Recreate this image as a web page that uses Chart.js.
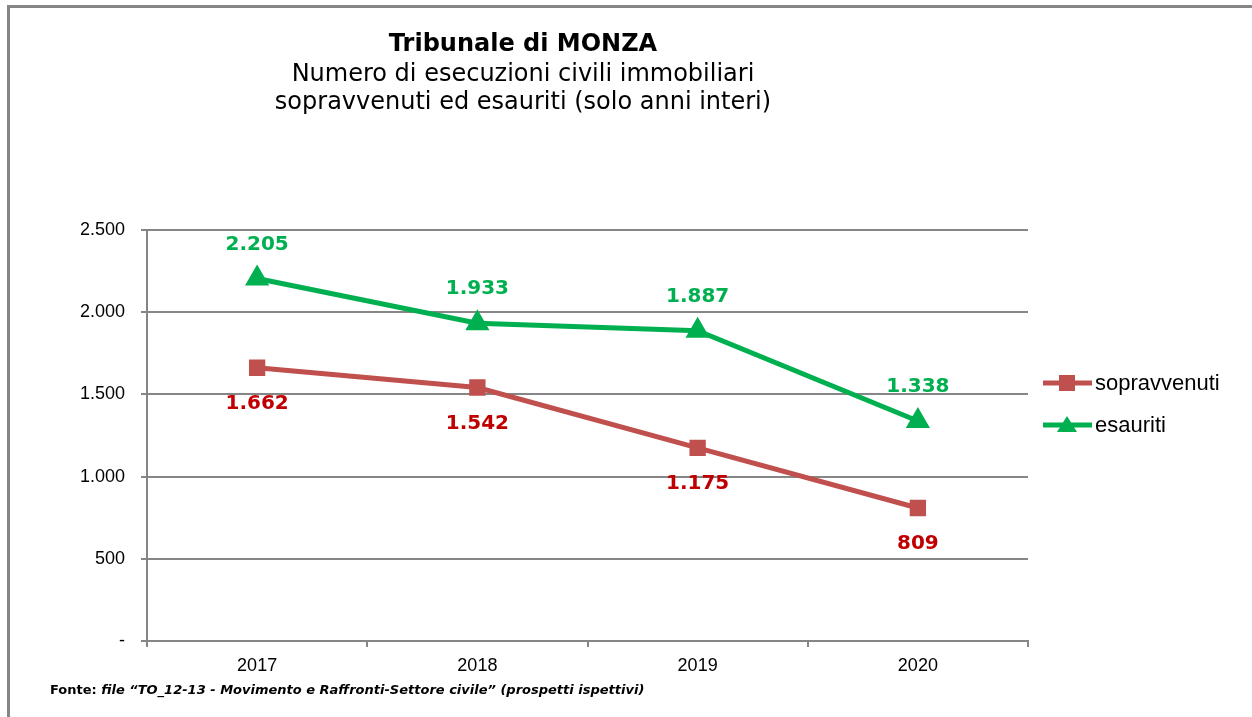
<!DOCTYPE html>
<html>
<head>
<meta charset="utf-8">
<script src="https://cdn.jsdelivr.net/npm/chart.js@4"></script>
<style>
  html, body { margin: 0; padding: 0; background: #fff; }
  #wrap { width: 1252px; height: 717px; }
</style>
</head>
<body>
<div id="wrap"><canvas id="myChart" width="1252" height="717"></canvas></div>
<script>
// dati
const anni = ["2017", "2018", "2019", "2020"];
const sopravvenuti = [1662, 1542, 1175, 809];
const esauriti = [2205, 1933, 1887, 1338];
const tickValori = [0, 500, 1000, 1500, 2000, 2500];

const titolo = "Tribunale di MONZA";
const sottotitolo = ["Numero di esecuzioni civili immobiliari", "sopravvenuti ed esauriti (solo anni interi)"];
const fonte = "Fonte: ";
const fonteCorsivo = "file \u201CTO_12-13 - Movimento e Raffronti-Settore civile\u201D (prospetti ispettivi)";

const rosso = "#C0504D";
const rossoEtichetta = "#C00000";
const verde = "#00B050";
const grigio = "#868686";

function fmt(v) {
    if (v === 0) return "-";
    return v.toLocaleString("it-IT");
}

// titolo, legenda, etichette e fonte disegnati a mano
const decorazioni = {
    id: "decorazioni",
    beforeDraw(chart) {
        const ctx = chart.ctx;
        ctx.save();
        ctx.fillStyle = "#fff";
        ctx.fillRect(0, 0, chart.width, chart.height);
        ctx.strokeStyle = grigio;
        ctx.lineWidth = 3;
        ctx.beginPath();
        ctx.moveTo(8.5, 717);
        ctx.lineTo(8.5, 6.5);
        ctx.lineTo(1252, 6.5);
        ctx.stroke();
        ctx.restore();
    },
    afterDatasetsDraw(chart) {
        const ctx = chart.ctx;
        ctx.save();
        ctx.textAlign = "center";
        ctx.textBaseline = "middle";
        ctx.font = "bold 20px 'DejaVu Sans'";
        chart.data.datasets.forEach(function (ds, i) {
            const meta = chart.getDatasetMeta(i);
            meta.data.forEach(function (pt, j) {
                const sopra = i === 1;
                ctx.fillStyle = sopra ? verde : rossoEtichetta;
                ctx.fillText(fmt(ds.data[j]), pt.x, pt.y + (sopra ? -34 : 36));
            });
        });
        ctx.restore();
    },
    afterDraw(chart) {
        const ctx = chart.ctx;
        ctx.save();
        ctx.fillStyle = "#000";
        ctx.textAlign = "center";
        ctx.textBaseline = "middle";
        ctx.font = "bold 24px 'DejaVu Sans'";
        ctx.fillText(titolo, 523, 45);
        ctx.font = "24px 'DejaVu Sans'";
        ctx.fillText(sottotitolo[0], 523, 75);
        ctx.fillText(sottotitolo[1], 523, 103);

        // legenda
        ctx.textAlign = "left";
        ctx.font = "22px 'Liberation Sans'";
        chart.data.datasets.forEach(function (ds, i) {
            const y = 383 + i * 42;
            ctx.strokeStyle = ds.borderColor;
            ctx.lineWidth = 5;
            ctx.beginPath();
            ctx.moveTo(1043, y);
            ctx.lineTo(1092, y);
            ctx.stroke();
            ctx.fillStyle = ds.backgroundColor;
            if (ds.pointStyle === "rect") {
                ctx.fillRect(1059, y - 8, 16, 16);
            } else {
                ctx.beginPath();
                ctx.moveTo(1067, y - 9);
                ctx.lineTo(1077, y + 7);
                ctx.lineTo(1057, y + 7);
                ctx.closePath();
                ctx.fill();
            }
            ctx.fillStyle = "#000";
            ctx.fillText(ds.label, 1095, y + 1);
        });

        // fonte
        ctx.font = "bold 13px 'DejaVu Sans'";
        ctx.fillText(fonte, 50, 691);
        const w = ctx.measureText(fonte).width;
        ctx.font = "italic bold 13px 'DejaVu Sans'";
        ctx.fillText(fonteCorsivo, 50 + w, 691);
        ctx.restore();
    }
};

const data = {
    labels: anni,
    datasets: [
        {
            label: "sopravvenuti",
            data: sopravvenuti,
            borderColor: rosso,
            backgroundColor: rosso,
            borderWidth: 5,
            pointStyle: "rect",
            pointRadius: 8,
            pointHoverRadius: 8,
            tension: 0,
        },
        {
            label: "esauriti",
            data: esauriti,
            borderColor: verde,
            backgroundColor: verde,
            borderWidth: 5,
            pointStyle: "triangle",
            pointRadius: 9,
            pointHoverRadius: 9,
            tension: 0,
        },
    ],
};

const config = {
    type: "line",
    data: data,
    plugins: [decorazioni],
    options: {
        responsive: false,
        animation: false,
        layout: { padding: { top: 230, right: 224, left: 0, bottom: 0 } },
        plugins: {
            legend: { display: false },
            title: { display: false },
            tooltip: { enabled: false },
        },
        scales: {
            x: {
                offset: true,
                grid: {
                    offset: true,
                    drawOnChartArea: false,
                    drawTicks: true,
                    tickLength: 6,
                    color: grigio,
                    lineWidth: 2,
                },
                border: { color: grigio, width: 2 },
                ticks: {
                    color: "#000",
                    padding: 8,
                    font: { family: "'Liberation Sans'", size: 18 },
                },
                afterFit(scale) { scale.height = 76; },
            },
            y: {
                min: 0,
                max: 2500,
                afterBuildTicks(scale) {
                    scale.ticks = tickValori.map(function (v) { return { value: v }; });
                },
                grid: {
                    color: grigio,
                    lineWidth: 2,
                    tickLength: 6,
                },
                border: { color: grigio, width: 2 },
                ticks: {
                    color: "#000",
                    padding: 16,
                    font: { family: "'Liberation Sans'", size: 18 },
                    callback: function (v) { return fmt(v); },
                },
                afterFit(scale) { scale.width = 147; },
            },
        },
    },
};

const myChart = new Chart(document.getElementById("myChart"), config);
</script>
</body>
</html>
